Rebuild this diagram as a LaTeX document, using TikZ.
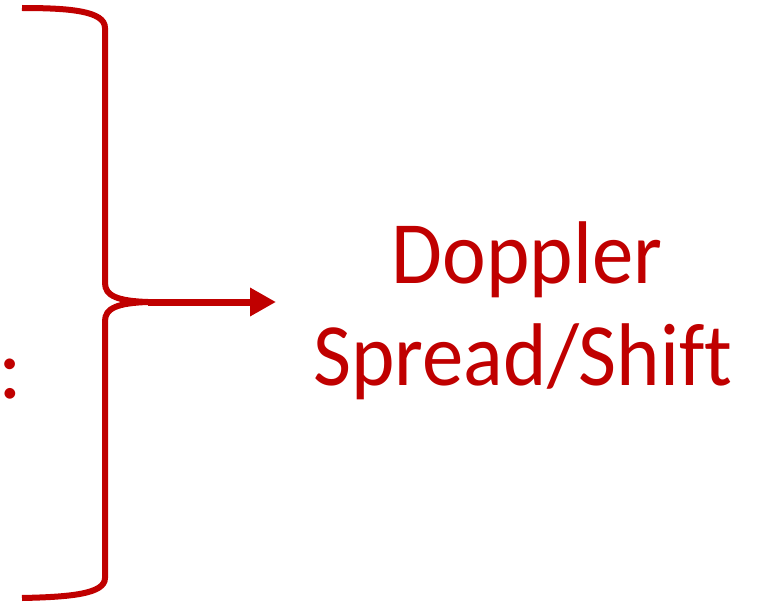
\documentclass[tikz,border=0pt]{standalone}
\usepackage{fontspec}
\setmainfont{Carlito}[Ligatures=NoCommon]
\usetikzlibrary{arrows.meta}
\definecolor{brred}{HTML}{C00000}
\newcommand{\narrowtxt}[1]{\scalebox{0.93}[1]{#1}}
\begin{document}
\begin{tikzpicture}[x=1pt,y=-1pt,
  bracestyle/.style={draw=brred,line width=6pt,line cap=butt},
  arrowstyle/.style={draw=brred,line width=7pt,-{Triangle[length=26pt,width=27pt]}},
  labelstyle/.style={text=brred,font=\fontsize{89}{102}\selectfont,inner sep=0pt}]
\useasboundingbox (0,0) rectangle (763,602);
\coordinate (top) at (22,8);
\coordinate (bot) at (22,598);
\coordinate (tip) at (148,302);
\coordinate (aend) at (276,302);
\draw[bracestyle] (top) .. controls (70,8) and (105,11) .. (105,28) -- (105,283)
  .. controls (105,296) and (118,301) .. (tip);
\draw[bracestyle] (tip) .. controls (118,303) and (105,308) .. (105,321) -- (105,578)
  .. controls (105,594) and (70,597) .. (bot);
\draw[arrowstyle] (tip) -- (aend);
\node[labelstyle,anchor=base] (doppler) at (527,283) {\narrowtxt{Doppler}};
\node[labelstyle,anchor=base] (spread) at (523,385) {\narrowtxt{Spread/Shift}};
\node[labelstyle,anchor=base] (colon) at (10,398) {:};
\end{tikzpicture}
\end{document}
